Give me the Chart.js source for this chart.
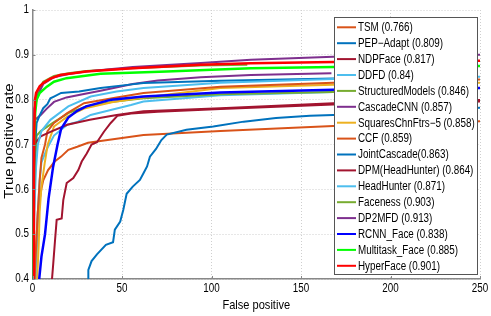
<!DOCTYPE html>
<html><head><meta charset="utf-8">
<script src="https://cdn.jsdelivr.net/npm/chart.js@4.4.1/dist/chart.umd.min.js"></script>
<style>html,body{margin:0;padding:0;background:#fff}#wrap{width:491px;height:316px}</style>
</head><body><div id="wrap"><canvas id="c" width="491" height="316"></canvas></div>
<script>
// ---- data: [false positives, true positive rate] ----
const tsm = [[1,0.38],[2,0.47],[3,0.55],[4.9,0.6],[6,0.62],[8.7,0.643],[12.4,0.662],[16,0.673],[20,0.688],[25,0.695],[31,0.704],[38,0.708],[49,0.714],[62,0.721],[105,0.73],[168,0.741],[250,0.752]];
const pepAdapt = [[31.2,0.39],[31.2,0.42],[33,0.44],[36,0.455],[41,0.476],[45,0.482],[46,0.51],[49,0.528],[50.7,0.554],[52.6,0.59],[56,0.606],[60,0.621],[62,0.636],[64,0.651],[65.6,0.673],[69,0.69],[72,0.71],[75,0.722],[86,0.733],[101,0.74],[118,0.751],[136,0.759],[155,0.764],[168,0.766],[210,0.775],[250,0.782]];
const ndpFace = [[10.7,0.39],[11.6,0.435],[12.6,0.487],[13.5,0.532],[16.3,0.535],[17.2,0.576],[19.1,0.614],[22.8,0.625],[25.6,0.643],[27.5,0.662],[30.3,0.68],[33,0.7],[36,0.705],[40,0.729],[43.7,0.748],[47.4,0.764],[55,0.769],[70,0.773],[105,0.779],[168,0.789],[250,0.796]];
const ddfd = [[2,0.39],[3,0.55],[4,0.62],[5,0.66],[8,0.69],[12,0.72],[19.4,0.744],[25,0.75],[32.5,0.766],[43.7,0.777],[55,0.788],[62,0.796],[105,0.81],[168,0.817],[200,0.82]];
const structuredModels = [[0.5,0.39],[1,0.6],[2.3,0.72],[4.6,0.73],[12,0.75],[20,0.77],[30,0.785],[44,0.795],[62,0.803],[105,0.812],[168,0.817],[200,0.819]];
const cascadeCNN = [[0.3,0.39],[0.5,0.7],[1.4,0.755],[4.6,0.766],[8,0.78],[12,0.795],[19,0.805],[28,0.812],[38,0.82],[56,0.835],[70,0.843],[94,0.85],[122,0.855],[167,0.859]];
const squaresChnFtrs = [[2.5,0.39],[3.5,0.48],[4,0.55],[5,0.606],[6.8,0.658],[8.5,0.7],[12,0.74],[19.4,0.762],[28.8,0.78],[45,0.795],[62,0.805],[105,0.826],[168,0.833],[250,0.838]];
const ccf = [[1,0.39],[2,0.47],[3,0.55],[4,0.62],[5,0.67],[7,0.7],[8.3,0.729],[12,0.748],[19.4,0.77],[28.8,0.792],[47,0.805],[62,0.815],[105,0.829],[168,0.838],[250,0.845]];
const jointCascade = [[0.5,0.39],[1,0.6],[1.5,0.7],[2.3,0.748],[4,0.765],[6,0.781],[8.3,0.79],[10,0.803],[12,0.807],[16,0.815],[26,0.818],[38,0.826],[53,0.833],[62,0.837],[105,0.842],[168,0.847],[190,0.848]];
const dpmHeadHunter = [[0,0.39],[0.3,0.62],[1,0.7],[4.6,0.718],[10,0.728],[19.4,0.744],[32,0.755],[47,0.766],[62,0.774],[80,0.777],[105,0.781],[168,0.792],[250,0.799]];
const headHunter = [[0.5,0.39],[1,0.55],[2,0.65],[3,0.7],[5,0.73],[10,0.755],[15,0.77],[20,0.785],[32.5,0.807],[47,0.818],[62,0.826],[105,0.838],[168,0.846],[250,0.851]];
const faceness = [[0.3,0.39],[0.8,0.7],[1.5,0.79],[3,0.818],[6,0.84],[12,0.853],[20,0.859],[30,0.864],[56,0.87],[94,0.876],[120,0.878]];
const dp2mfd = [[0,0.39],[0.3,0.7],[1,0.78],[3,0.81],[6,0.835],[12,0.85],[20,0.857],[30,0.863],[56,0.873],[94,0.882],[122,0.889],[168,0.896],[250,0.9]];
const rcnnFace = [[3.5,0.39],[5,0.45],[7,0.5],[9,0.58],[11.5,0.65],[14,0.7],[16,0.735],[20,0.76],[25,0.775],[30,0.785],[44,0.8],[62,0.807],[105,0.816],[168,0.822],[250,0.826]];
const multitaskFace = [[0,0.39],[0,0.47],[0.5,0.5],[1,0.7],[1.5,0.77],[2.3,0.8],[4,0.815],[8,0.829],[12,0.84],[19,0.848],[38,0.858],[75,0.863],[122,0.87],[168,0.873],[250,0.875]];
const hyperFace = [[0.5,0.39],[0.8,0.6],[1,0.73],[1.4,0.8],[2,0.815],[4,0.83],[6,0.837],[10,0.847],[15.4,0.855],[30,0.863],[56,0.87],[94,0.878],[122,0.881],[168,0.884],[250,0.887]];

const seriesNames = ['TSM (0.766)','PEP\u2212Adapt (0.809)','NDPFace (0.817)','DDFD (0.84)','StructuredModels (0.846)','CascadeCNN (0.857)','SquaresChnFtrs\u22125 (0.858)','CCF (0.859)','JointCascade(0.863)','DPM(HeadHunter) (0.864)','HeadHunter (0.871)','Faceness (0.903)','DP2MFD (0.913)','RCNN_Face (0.838)','Multitask_Face (0.885)','HyperFace (0.901)'];
const seriesData = [tsm,pepAdapt,ndpFace,ddfd,structuredModels,cascadeCNN,squaresChnFtrs,ccf,jointCascade,dpmHeadHunter,headHunter,faceness,dp2mfd,rcnnFace,multitaskFace,hyperFace];
const seriesColors = ['#D95319','#0072BD','#A2142F','#4DBEEE','#77AC30','#7E2F8E','#EDB120','#D95319','#0072BD','#A2142F','#4DBEEE','#77AC30','#7E2F8E','#0000FF','#00FF00','#FF0000'];
const xTicks = [0,50,100,150,200,250];
const yTicks = [0.4,0.5,0.6,0.7,0.8,0.9,1];
const xTitle = 'False positive';
const yTitle = 'True positive rate';

const FONT = "'Liberation Sans',Arial,Helvetica,sans-serif";
const SQ = 0.82; // horizontal squash of the reference's text

const datasets = seriesData.map((pts,i)=>({
  label: seriesNames[i],
  data: pts.map(p=>({x:p[0],y:p[1]})),
  borderColor: seriesColors[i],
  backgroundColor: seriesColors[i],
  borderWidth: i>=13 ? 2.5 : 2,
  pointRadius: 0,
  fill: false,
  tension: 0,
  order: seriesData.length - i
}));

function txt(ctx, s, x, y, align, baseline, size, rot) {
  ctx.save();
  ctx.translate(x, y);
  ctx.scale(SQ, 1);
  if (rot) ctx.rotate(-Math.PI/2);
  ctx.font = size + 'px ' + FONT;
  ctx.textAlign = align; ctx.textBaseline = baseline; ctx.fillStyle = '#000';
  ctx.fillText(s, 0, 0);
  ctx.restore();
}

const extras = {
  id: 'extras',
  afterDatasetsDraw(chart) {
    const ctx = chart.ctx, a = chart.chartArea;
    const xs = chart.scales.x, ys = chart.scales.y;
    ctx.save();
    // inward tick marks
    ctx.strokeStyle = '#888'; ctx.lineWidth = 1;
    xTicks.forEach(t=>{ const px = Math.round(xs.getPixelForValue(t))+0.5; ctx.beginPath(); ctx.moveTo(px,a.bottom); ctx.lineTo(px,a.bottom-3); ctx.stroke(); });
    yTicks.forEach(t=>{ const py = Math.round(ys.getPixelForValue(t))+0.5; ctx.beginPath(); ctx.moveTo(a.left,py); ctx.lineTo(a.left+3,py); ctx.stroke(); });
    ctx.restore();
    // tick labels and titles
    xTicks.forEach(t=> txt(ctx, String(t), xs.getPixelForValue(t), a.bottom + 10, 'center', 'middle', 12, false));
    yTicks.forEach(t=> txt(ctx, String(t), a.left - 3.5, ys.getPixelForValue(t), 'right', 'middle', 12, false));
    txt(ctx, xTitle, (a.left + a.right)/2, a.bottom + 26, 'center', 'middle', 13.5, false);
    ctx.save();
    ctx.translate(10, 141);
    ctx.scale(SQ, 1);
    ctx.rotate(-Math.PI/2);
    ctx.font = '15px ' + FONT; ctx.textAlign = 'center'; ctx.textBaseline = 'middle'; ctx.fillStyle = '#000';
    ctx.fillText(yTitle, 0, 0);
    ctx.restore();
    // legend box
    ctx.save();
    const lx = a.right - 146, ly = a.top + 7, lw = 143, lh = 257;
    ctx.fillStyle = '#fff'; ctx.fillRect(lx, ly, lw, lh);
    ctx.strokeStyle = '#555'; ctx.lineWidth = 1; ctx.strokeRect(lx+0.5, ly+0.5, lw, lh);
    chart.data.datasets.forEach((d,i)=>{
      const y = ly + 10.3 + i*15.9;
      ctx.strokeStyle = d.borderColor; ctx.lineWidth = 2;
      ctx.beginPath(); ctx.moveTo(lx+3, y); ctx.lineTo(lx+22, y); ctx.stroke();
      txt(ctx, d.label, lx+24, y+0.5, 'left', 'middle', 12, false);
    });
    ctx.restore();
  }
};

new Chart(document.getElementById('c'), {
  type: 'line',
  data: { datasets },
  options: {
    responsive: false, animation: false, devicePixelRatio: 1,
    layout: { padding: { left: 0, right: 11, top: 10, bottom: 0 } },
    plugins: { legend: { display: false }, tooltip: { enabled: false } },
    scales: {
      x: {
        type: 'linear', min: 0, max: 250,
        afterBuildTicks: s => { s.ticks = xTicks.map(v=>({value:v})); },
        afterFit: s => { s.height = 37; s.paddingLeft = 0; s.paddingRight = 0; },
        ticks: { display: false },
        grid: { color: '#cfcfcf', lineWidth: 1, drawTicks: false },
        border: { display: true, color: '#888', width: 1.5, dash: [1,2] },
        title: { display: false }
      },
      y: {
        type: 'linear', min: 0.4, max: 1,
        afterBuildTicks: s => { s.ticks = yTicks.map(v=>({value:v})); },
        afterFit: s => { s.width = 32.5; s.paddingTop = 0; s.paddingBottom = 0; },
        ticks: { display: false },
        grid: { color: '#cfcfcf', lineWidth: 1, drawTicks: false },
        border: { display: true, color: '#888', width: 1.5, dash: [1,2] },
        title: { display: false }
      }
    }
  },
  plugins: [extras]
});
</script></body></html>
